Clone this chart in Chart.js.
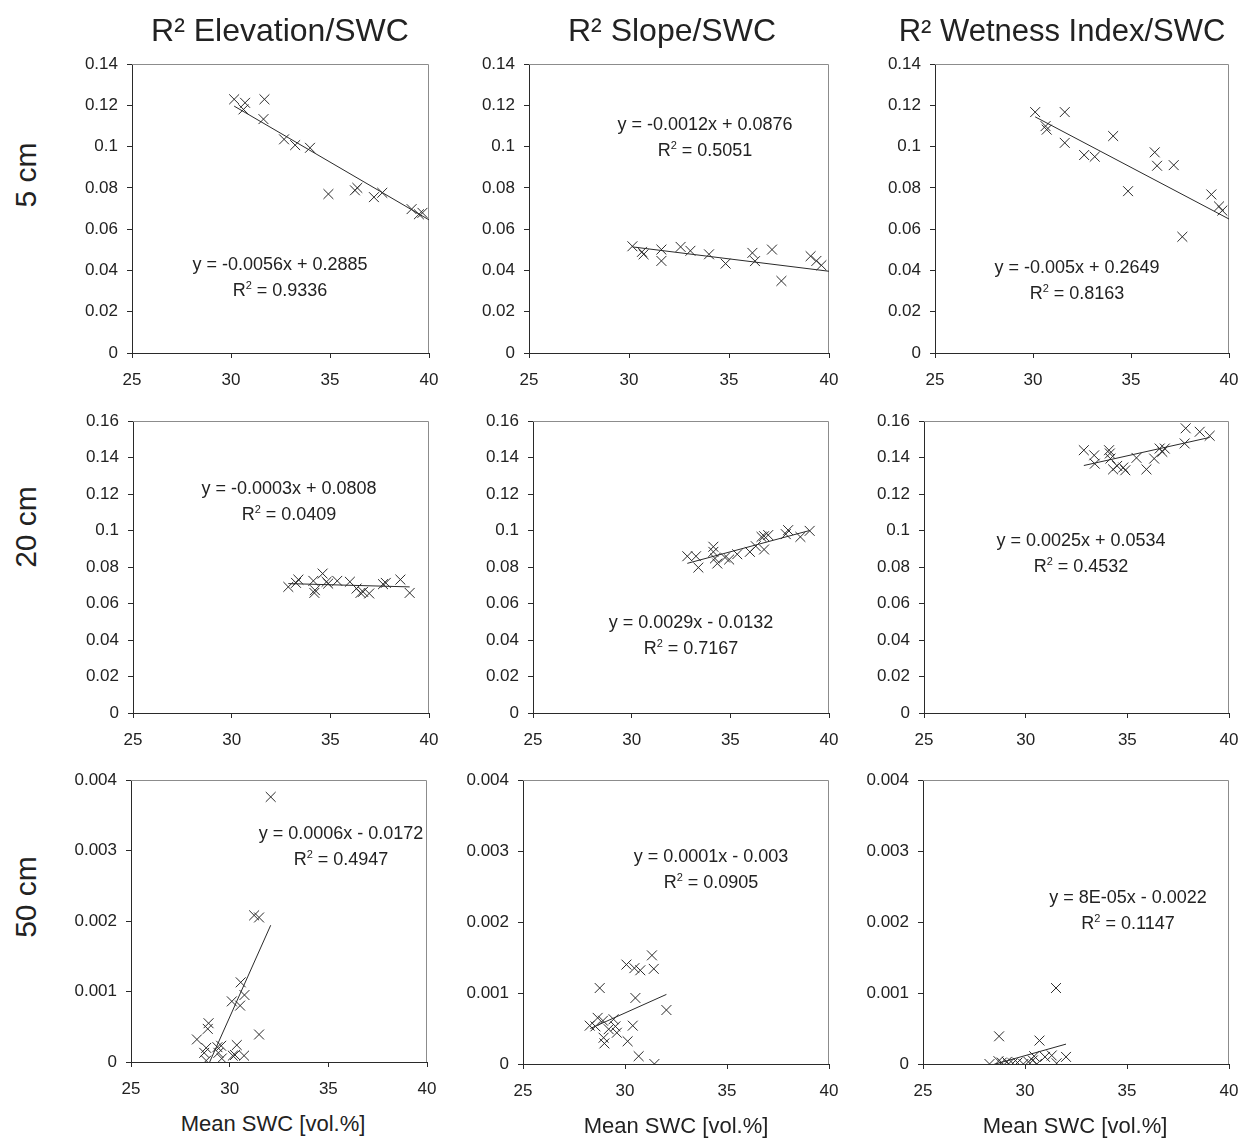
<!DOCTYPE html>
<html>
<head>
<meta charset="utf-8">
<script src="https://cdn.jsdelivr.net/npm/chart.js@4.4.0/dist/chart.umd.min.js"></script>
<style>
  body { margin: 0; background: #fff; width: 1241px; height: 1139px; position: relative; overflow: hidden;
         font-family: Arial, "Liberation Sans", sans-serif; color: #222; }
  canvas { position: absolute; }
  .t { position: absolute; transform: translate(-50%, -50%); white-space: nowrap; line-height: 1; }
  .col { font-size: 32px; }
  .row { font-size: 30px; transform: translate(-50%, -50%) rotate(-90deg); }
  .eq { font-size: 18px; }
  .xt { font-size: 22px; }
  sup { font-size: 11px; position: relative; top: -0.1em; vertical-align: top; }
</style>
</head>
<body>
<script>
// tick labels
const xTicks = [25, 30, 35, 40];
const yTicks5 = [0, 0.02, 0.04, 0.06, 0.08, 0.1, 0.12, 0.14];
const yTicks20 = [0, 0.02, 0.04, 0.06, 0.08, 0.1, 0.12, 0.14, 0.16];
const yTicks50 = [0, 0.001, 0.002, 0.003, 0.004];

const colTitles = ["R² Elevation/SWC", "R² Slope/SWC", "R² Wetness Index/SWC"];
const rowTitles = ["5 cm", "20 cm", "50 cm"];
const xTitle = "Mean SWC [vol.%]";

// 5 cm
const elev5X = [30.16, 30.71, 30.63, 31.69, 31.64, 32.68, 33.24, 33.99, 34.92, 36.26, 36.38, 37.22, 37.64, 39.12, 39.49, 39.67];
const elev5Y = [0.1229, 0.1212, 0.118, 0.1229, 0.1133, 0.1035, 0.1007, 0.0994, 0.077, 0.0788, 0.08, 0.0755, 0.0776, 0.0697, 0.0672, 0.0679];
const elev5TrendX = [30.16, 40];
const elev5TrendY = [0.1196, 0.0645];

const slope5X = [30.17, 30.65, 30.73, 31.62, 31.62, 32.58, 33.07, 34.0, 34.83, 36.17, 36.3, 37.15, 37.62, 39.08, 39.37, 39.62];
const slope5Y = [0.0517, 0.049, 0.0478, 0.0501, 0.0446, 0.0514, 0.0495, 0.0478, 0.0433, 0.0485, 0.0445, 0.0501, 0.0349, 0.0469, 0.0446, 0.0425];
const slope5TrendX = [30.17, 40];
const slope5TrendY = [0.0514, 0.0396];

const twi5X = [30.11, 30.64, 30.7, 31.62, 31.62, 32.61, 33.15, 34.09, 34.85, 36.21, 36.33, 37.18, 37.62, 39.1, 39.49, 39.66];
const twi5Y = [0.1167, 0.1099, 0.1082, 0.1167, 0.1018, 0.0959, 0.0951, 0.1051, 0.0784, 0.0972, 0.0907, 0.091, 0.0563, 0.0768, 0.071, 0.069];
const twi5TrendX = [30.11, 40];
const twi5TrendY = [0.1144, 0.0649];

// 20 cm
const elev20X = [32.87, 33.26, 33.38, 34.14, 34.22, 34.19, 34.61, 34.81, 34.89, 35.35, 35.99, 36.33, 36.53, 36.66, 36.97, 37.67, 37.81, 38.55, 39.02];
const elev20Y = [0.0691, 0.0713, 0.0731, 0.0724, 0.0673, 0.0658, 0.0764, 0.0719, 0.0709, 0.0724, 0.0719, 0.0682, 0.0658, 0.0664, 0.0655, 0.0706, 0.0713, 0.0731, 0.0658];
const elev20TrendX = [32.87, 39.02];
const elev20TrendY = [0.0709, 0.0691];

const slope20X = [32.82, 33.26, 33.38, 34.14, 34.14, 34.22, 34.34, 34.73, 34.94, 35.35, 35.99, 36.29, 36.58, 36.71, 36.71, 36.92, 37.81, 37.93, 38.55, 39.02];
const slope20Y = [0.0859, 0.0859, 0.0797, 0.0911, 0.0883, 0.0847, 0.0819, 0.0852, 0.0841, 0.087, 0.0883, 0.0914, 0.0965, 0.0969, 0.0896, 0.0975, 0.098, 0.1002, 0.0965, 0.0998];
const slope20TrendX = [32.82, 39.02];
const slope20TrendY = [0.082, 0.1];

const twi20X = [32.86, 33.37, 33.4, 34.1, 34.14, 34.17, 34.3, 34.5, 34.8, 34.9, 35.45, 35.94, 36.32, 36.59, 36.72, 36.84, 37.82, 37.87, 38.56, 39.05];
const twi20Y = [0.144, 0.1412, 0.1366, 0.144, 0.1422, 0.1394, 0.1335, 0.1354, 0.1345, 0.133, 0.1398, 0.1335, 0.1394, 0.1449, 0.1431, 0.1449, 0.1477, 0.156, 0.1541, 0.1519];
const twi20TrendX = [32.86, 39.05];
const twi20TrendY = [0.1356, 0.151];

// 50 cm
const elev50X = [32.08, 31.24, 31.49, 30.56, 30.75, 30.11, 30.53, 31.49, 28.93, 28.89, 28.34, 28.81, 28.71, 29.38, 29.57, 29.43, 30.36, 30.16, 30.73, 28.81, 29.6, 30.27];
const elev50Y = [0.00376, 0.00208, 0.00205, 0.00113, 0.00095, 0.00086, 0.0008, 0.00039, 0.00055, 0.00047, 0.00032, 0.0002, 0.00013, 0.00021, 0.00023, 0.00013, 0.00024, 0.00009, 0.00009, 0.00002, 0.00005, 0.0001];
const elev50TrendX = [28.3, 32.08];
const elev50TrendY = [-0.00043, 0.00194];

const slope50X = [31.32, 30.07, 30.46, 30.75, 31.41, 28.76, 30.51, 32.03, 28.66, 28.27, 28.92, 29.44, 29.53, 29.2, 29.6, 30.38, 28.95, 28.99, 30.13, 30.67, 31.44, 28.55];
const slope50Y = [0.00153, 0.0014, 0.00135, 0.00132, 0.00134, 0.00107, 0.00093, 0.00076, 0.00065, 0.00054, 0.00061, 0.00063, 0.00053, 0.00049, 0.00044, 0.00054, 0.00037, 0.00029, 0.00032, 0.00011, 0.0, 0.00053];
const slope50TrendX = [28.3, 32.03];
const slope50TrendY = [0.0005, 0.00098];

const twi50X = [31.52, 28.73, 30.71, 32.01, 31.31, 30.98, 28.26, 28.7, 28.86, 29.11, 29.4, 29.63, 29.92, 30.17, 30.38, 30.45, 30.58, 31.55, 29.19];
const twi50Y = [0.00107, 0.00039, 0.00033, 0.0001, 0.00012, 0.0001, 0.0, 0.00004, 0.00002, 0.00003, 0.00001, 0.00002, 0.0, 0.00003, 0.00005, 0.00011, 0.0, 0.00001, 0.0];
const twi50TrendX = [28.3, 32.01];
const twi50TrendY = [-0.00002, 0.00028];

// panel boxes: [left, top, right, bottom] of the plot area
const panels = [
  { box: [132, 64, 429, 353], x: elev5X, y: elev5Y, tx: elev5TrendX, ty: elev5TrendY, yt: yTicks5, eq: "y = -0.0056x + 0.2885", r2: "0.9336", at: [280, 264] },
  { box: [529, 64, 829, 353], x: slope5X, y: slope5Y, tx: slope5TrendX, ty: slope5TrendY, yt: yTicks5, eq: "y = -0.0012x + 0.0876", r2: "0.5051", at: [705, 124] },
  { box: [935, 64, 1229, 353], x: twi5X, y: twi5Y, tx: twi5TrendX, ty: twi5TrendY, yt: yTicks5, eq: "y = -0.005x + 0.2649", r2: "0.8163", at: [1077, 267] },
  { box: [133, 421, 429, 713], x: elev20X, y: elev20Y, tx: elev20TrendX, ty: elev20TrendY, yt: yTicks20, eq: "y = -0.0003x + 0.0808", r2: "0.0409", at: [289, 488] },
  { box: [533, 421, 829, 713], x: slope20X, y: slope20Y, tx: slope20TrendX, ty: slope20TrendY, yt: yTicks20, eq: "y = 0.0029x - 0.0132", r2: "0.7167", at: [691, 622] },
  { box: [924, 421, 1229, 713], x: twi20X, y: twi20Y, tx: twi20TrendX, ty: twi20TrendY, yt: yTicks20, eq: "y = 0.0025x + 0.0534", r2: "0.4532", at: [1081, 540] },
  { box: [131, 780, 427, 1062], x: elev50X, y: elev50Y, tx: elev50TrendX, ty: elev50TrendY, yt: yTicks50, eq: "y = 0.0006x - 0.0172", r2: "0.4947", at: [341, 833] },
  { box: [523, 780, 829, 1064], x: slope50X, y: slope50Y, tx: slope50TrendX, ty: slope50TrendY, yt: yTicks50, eq: "y = 0.0001x - 0.003", r2: "0.0905", at: [711, 856] },
  { box: [923, 780, 1229, 1064], x: twi50X, y: twi50Y, tx: twi50TrendX, ty: twi50TrendY, yt: yTicks50, eq: "y = 8E-05x - 0.0022", r2: "0.1147", at: [1128, 897] }
];

// room round the plot area inside each canvas (wider than the tick label overflow)
const PAD_L = 72, PAD_T = 22, PAD_R = 26, PAD_B = 42;
const ink = "#2a2a2a";

function addText(cls, html, x, y, size) {
  const d = document.createElement("div");
  d.className = "t " + cls;
  d.innerHTML = html;
  d.style.left = x + "px";
  d.style.top = y + "px";
  if (size) d.style.fontSize = size + "px";
  document.body.appendChild(d);
}

// top and right edge of the plot box
const frame = {
  id: "frame",
  beforeDatasetsDraw(chart) {
    const a = chart.chartArea, ctx = chart.ctx;
    ctx.save();
    ctx.strokeStyle = "#8c8c8c";
    ctx.lineWidth = 1;
    ctx.beginPath();
    ctx.moveTo(a.left, a.top + 0.5);
    ctx.lineTo(a.right - 0.5, a.top + 0.5);
    ctx.lineTo(a.right - 0.5, a.bottom);
    ctx.stroke();
    ctx.restore();
  }
};

const tickFont = { family: "Arial, 'Liberation Sans', sans-serif", size: 17 };

panels.forEach(p => {
  const [l, t, r, b] = p.box;
  const cv = document.createElement("canvas");
  const w = r - l + PAD_L + PAD_R, h = b - t + PAD_T + PAD_B;
  cv.width = w; cv.height = h;
  cv.style.left = (l - PAD_L) + "px";
  cv.style.top = (t - PAD_T) + "px";
  cv.style.width = w + "px";
  cv.style.height = h + "px";
  document.body.appendChild(cv);

  const yt = p.yt;
  new Chart(cv.getContext("2d"), {
    type: "scatter",
    data: {
      datasets: [
        {
          data: p.x.map((v, i) => ({ x: v, y: p.y[i] })),
          pointStyle: "crossRot",
          radius: 7,
          borderColor: ink,
          borderWidth: 1,
          showLine: false
        },
        {
          data: p.tx.map((v, i) => ({ x: v, y: p.ty[i] })),
          showLine: true,
          pointRadius: 0,
          borderColor: ink,
          borderWidth: 1,
          clip: 0
        }
      ]
    },
    options: {
      responsive: false,
      animation: false,
      devicePixelRatio: 1,
      layout: { padding: { left: 0, top: PAD_T, right: PAD_R, bottom: 0 } },
      plugins: { legend: { display: false }, tooltip: { enabled: false } },
      scales: {
        x: {
          type: "linear", min: 25, max: 40,
          afterBuildTicks: s => { s.ticks = xTicks.map(v => ({ value: v })); },
          afterFit: s => { s.height = PAD_B; },
          ticks: { color: "#222", font: tickFont, padding: 12, maxRotation: 0 },
          grid: { drawOnChartArea: false, drawTicks: true, tickLength: 5, color: ink },
          border: { color: ink, width: 1 }
        },
        y: {
          type: "linear", min: yt[0], max: yt[yt.length - 1],
          afterBuildTicks: s => { s.ticks = yt.map(v => ({ value: v })); },
          afterFit: s => { s.width = PAD_L; },
          ticks: { color: "#222", font: tickFont, padding: 9, callback: v => String(+v.toFixed(4)) },
          grid: { drawOnChartArea: false, drawTicks: true, tickLength: 5, color: ink },
          border: { color: ink, width: 1 }
        }
      }
    },
    plugins: [frame]
  });

  addText("eq", p.eq, p.at[0], p.at[1]);
  addText("eq", "R<sup>2</sup> = " + p.r2, p.at[0], p.at[1] + 26);
});

// column titles, row labels, x axis titles
addText("col", colTitles[0], 280, 30);
addText("col", colTitles[1], 672, 30);
addText("col", colTitles[2], 1062, 30, 31);
addText("row", rowTitles[0], 26, 175);
addText("row", rowTitles[1], 26, 527);
addText("row", rowTitles[2], 26, 897);
addText("xt", xTitle, 273, 1124);
addText("xt", xTitle, 676, 1126);
addText("xt", xTitle, 1075, 1126);
</script>
</body>
</html>
